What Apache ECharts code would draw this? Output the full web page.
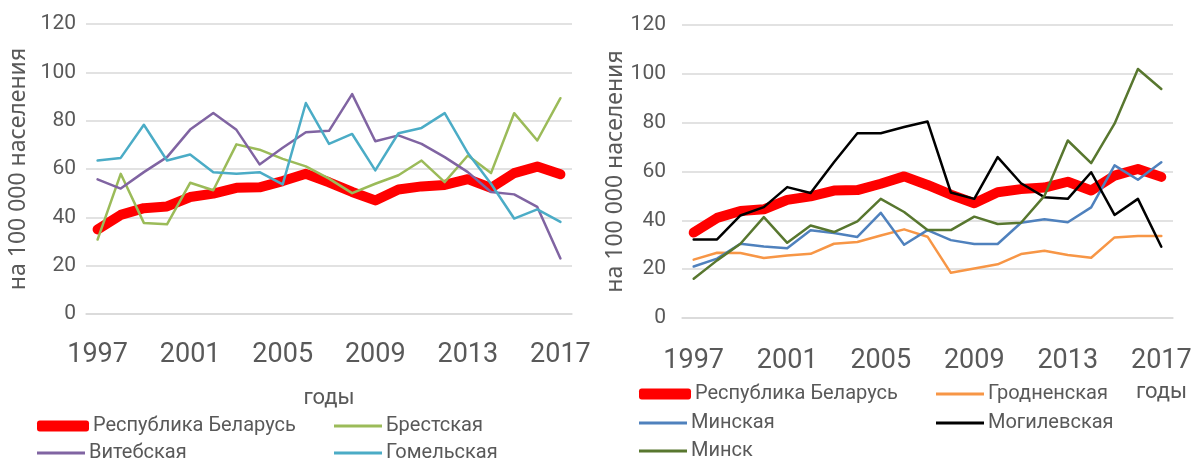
<!DOCTYPE html>
<html>
<head>
<meta charset="utf-8">
<script src="https://cdn.jsdelivr.net/npm/echarts@6/dist/echarts.min.js"></script>
<style>
  html, body { margin: 0; padding: 0; background: #fff; }
  #chart { width: 1195px; height: 464px; }
</style>
</head>
<body>
<div id="chart"></div>
<script>
// годы
const years = ['1997','1998','1999','2000','2001','2002','2003','2004','2005','2006','2007',
               '2008','2009','2010','2011','2012','2013','2014','2015','2016','2017'];
const yTicks = [0, 20, 40, 60, 80, 100, 120];

// на 100 000 населения
const belarus  = [35, 41, 43.8, 44.5, 48.4, 49.8, 52.2, 52.4, 55, 58, 54.5, 50.5, 47, 51.5, 52.8, 53.4, 55.8, 52.2, 58.3, 61, 57.8];
const brest    = [30.8, 58, 37.7, 37.1, 54.3, 51.2, 70.2, 68, 64.2, 61.1, 56, 50, 53.9, 57.4, 63.5, 54.6, 65.6, 58.3, 83.1, 71.8, 89.3];
const vitebsk  = [55.7, 51.9, 58.7, 64.9, 76.3, 83.2, 76.2, 61.9, 68.8, 75.2, 75.8, 91, 71.5, 73.9, 70.4, 64.9, 58.7, 50.5, 49.5, 44.3, 23];
const gomel    = [63.5, 64.6, 78.3, 63.5, 66, 58.7, 58, 58.7, 53.6, 87.3, 70.4, 74.5, 59.4, 74.8, 77, 83.1, 66.6, 53.9, 39.5, 43.3, 38.1];
const grodno   = [23.9, 26.7, 26.6, 24.6, 25.6, 26.3, 30.4, 31.1, 33.8, 36.3, 33.3, 18.5, 20.3, 22, 26.2, 27.5, 25.8, 24.7, 33, 33.6, 33.6];
const minskReg = [21.1, 24.3, 30.4, 29.3, 28.6, 35.9, 34.8, 33.2, 43.1, 30, 36, 31.9, 30.3, 30.3, 39, 40.4, 39.2, 45.3, 62.5, 56.6, 63.8];
const mogilev  = [32.2, 32.2, 42, 45.4, 53.6, 51.2, 63.8, 75.7, 75.7, 78.2, 80.5, 51.4, 48.8, 65.9, 55.2, 49.5, 48.8, 59.7, 42.2, 48.8, 29.2];
const minsk    = [16.1, 23.6, 30.4, 41.3, 30.8, 37.9, 35.2, 39.6, 48.8, 43.4, 36, 36, 41.5, 38.5, 39, 50, 72.7, 63.4, 79.6, 102, 93.8];

const FONT = 'Roboto';
const GRAY = '#595959';

let chart = echarts.init(document.getElementById('chart'), null, {renderer: 'canvas'});

function xAxis(grid, margin, name) {
  return {
    type: 'category', gridIndex: grid, data: years, boundaryGap: true,
    axisTick: {show: false},
    axisLine: {lineStyle: {color: '#d9d9d9', width: 1.5}},
    axisLabel: {interval: 3, color: GRAY, fontSize: 27, fontFamily: FONT, margin: margin},
    name: name, nameLocation: 'middle', nameGap: 73,
    nameTextStyle: {color: GRAY, fontSize: 22, fontFamily: FONT}
  };
}
function yAxis(grid, margin, gap) {
  return {
    type: 'value', gridIndex: grid, min: yTicks[0], max: yTicks[yTicks.length - 1], interval: 20,
    axisLine: {show: false}, axisTick: {show: false},
    axisLabel: {color: GRAY, fontSize: 21, fontFamily: FONT, margin: margin},
    splitLine: {lineStyle: {color: '#d9d9d9', width: 1.5}},
    name: 'на 100 000 населения', nameLocation: 'middle', nameGap: gap, nameRotate: 90,
    nameTextStyle: {color: GRAY, fontSize: 23, fontFamily: 'Noto Sans'}
  };
}
function line(name, data, color, width, grid) {
  return {
    name: name, type: 'line', data: data, xAxisIndex: grid, yAxisIndex: grid,
    showSymbol: false, symbol: 'none', animation: false,
    lineStyle: {color: color, width: width, cap: 'round', join: 'round'},
    itemStyle: {color: color}
  };
}
// one legend block per item so positions match the two-column layout
function legendItem(name, left, centerY, thick) {
  return {
    data: [name], left: left, top: centerY - 12, icon: thick ? 'roundRect' : 'rect',
    itemWidth: thick ? 52 : 48, itemHeight: thick ? 11 : 3, itemGap: 0,
    textStyle: {color: GRAY, fontSize: 20, fontFamily: FONT, padding: [0, 0, 0, -1]}
  };
}

let option = {
  backgroundColor: '#fff',
  animation: false,
  grid: [
    {left: 86, top: 24, width: 486, height: 290, outerBoundsMode: 'none'},
    {left: 682, top: 25, width: 491, height: 293, outerBoundsMode: 'none'}
  ],
  xAxis: [xAxis(0, 28, 'годы'), xAxis(1, 30, '')],
  yAxis: [yAxis(0, 10, 56), yAxis(1, 16, 49)],
  legend: [
    legendItem('Республика Беларусь', 32, 423, true),
    legendItem('Брестская', 329, 423),
    legendItem('Витебская', 32, 450),
    legendItem('Гомельская', 329, 450),
    legendItem('Республика Беларусь', 634, 391, true),
    legendItem('Гродненская', 931, 391),
    legendItem('Минская', 634, 420),
    legendItem('Могилевская', 931, 420),
    legendItem('Минск', 634, 448)
  ],
  graphic: [
    {type: 'text', left: 1136, top: 381,
     style: {text: 'годы', fill: GRAY, fontSize: 22, fontFamily: FONT}}
  ],
  series: [
    line('Республика Беларусь', belarus, '#ff0000', 10, 0),
    line('Брестская', brest, '#9bbb59', 2.5, 0),
    line('Витебская', vitebsk, '#8064a2', 2.5, 0),
    line('Гомельская', gomel, '#4bacc6', 2.5, 0),
    line('Республика Беларусь', belarus, '#ff0000', 10, 1),
    line('Гродненская', grodno, '#f79646', 2.5, 1),
    line('Минская', minskReg, '#4f81bd', 2.5, 1),
    line('Могилевская', mogilev, '#000000', 2.5, 1),
    line('Минск', minsk, '#58772f', 2.5, 1)
  ]
};
chart.setOption(option);
</script>
</body>
</html>
